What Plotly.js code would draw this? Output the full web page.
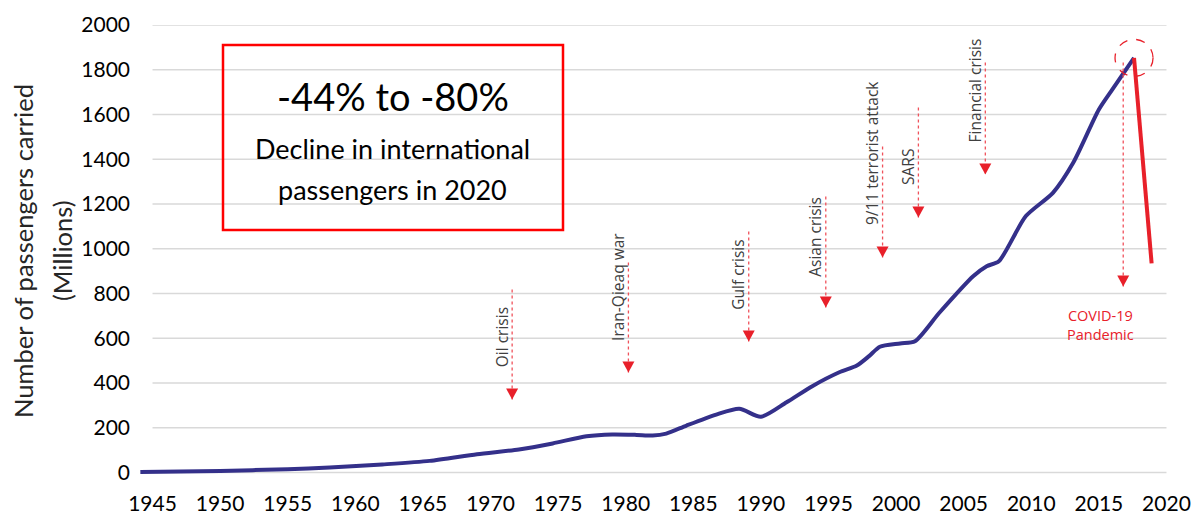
<!DOCTYPE html>
<html>
<head>
<meta charset="utf-8">
<script src="https://cdn.plot.ly/plotly-3.0.1.min.js"></script>
<style>html,body{margin:0;padding:0;background:#fff;}#chart{width:1195px;height:515px;}</style>
</head>
<body>
<div id="chart"></div>
<script>
// ---- data ----
var years = [1944.1, 1950, 1955, 1958.1, 1962, 1965.5, 1969, 1972.1, 1974.6, 1977.1, 1979.0, 1980.8, 1982.0, 1983.0, 1984.5, 1986.7, 1988.4, 1990.0, 1991.9, 1993.8, 1995.8, 1997.1, 1998.0, 1998.8, 2000.3, 2001.4, 2003.2, 2005.7, 2006.7, 2007.6, 2009.6, 2011.6, 2013.1, 2015.0, 2016.0, 2017.6];
var passengers = [2, 7, 15, 22, 36, 52, 82, 103, 130, 162, 170, 168, 165, 174, 210, 259, 285, 249, 314, 386, 448, 478, 520, 562, 577, 587, 714, 877, 922, 944, 1146, 1250, 1384, 1622, 1712, 1853];
var covidYears = [2017.6, 2018.9];
var covidPassengers = [1853, 935];

var xTickVals = [1945, 1950, 1955, 1960, 1965, 1970, 1975, 1980, 1985, 1990, 1995, 2000, 2005, 2010, 2015, 2020];
var yTickVals = [0, 200, 400, 600, 800, 1000, 1200, 1400, 1600, 1800, 2000];

var eventNames = ["Oil crisis", "Iran-Qieaq war", "Gulf crisis", "Asian crisis", "9/11 terrorist attack", "SARS", "Financial crisis"];
var eventYears = [1971.6, 1980.2, 1989.1, 1994.8, 1999.0, 2001.65, 2006.6];
var eventLineTop = [818, 939, 1077, 1233, 1457, 1631, 1832];
var eventArrowTip = [326, 447, 585, 737, 961, 1140, 1332];
var eventLabelY = [603, 829, 885, 1055, 1428, 1365, 1707];

var covidEventYear = 2016.8, covidLineTop = 1832, covidArrowTip = 831;

// ---- layout geometry ----
var W = 1195, H = 515;
var M = {l: 139, r: 15, t: 25, b: 35};
var PW = W - M.l - M.r, PH = H - M.t - M.b;
function px(x) { return (x - M.l) / PW; }
function py(y) { return (H - M.b - y) / PH; }

var navy = '#34308A', red = '#E8202A', dotRed = '#F0525C';
var FONT = 'Lato, "Open Sans", sans-serif';
var EVFONT = '"Open Sans", Lato, sans-serif';

var traces = [
  {x: years, y: passengers, type: 'scatter', mode: 'lines',
   line: {color: navy, width: 4, shape: 'spline', smoothing: 0.7}, hoverinfo: 'skip'},
  {x: covidYears, y: covidPassengers, type: 'scatter', mode: 'lines',
   line: {color: red, width: 4}, hoverinfo: 'skip'}
];

var shapes = [];
// gridlines from 1945 to 2020
yTickVals.forEach(function (v) {
  shapes.push({type: 'line', xref: 'x', yref: 'y', x0: xTickVals[0], x1: xTickVals[xTickVals.length - 1],
    y0: v, y1: v, line: {color: '#D9D9D9', width: 1.5}, layer: 'below'});
});
function addArrow(x, top, tip) {
  shapes.push({type: 'line', xref: 'x', yref: 'y', x0: x, x1: x, y0: top, y1: tip,
    line: {color: dotRed, width: 1.3, dash: 'dot'}});
  shapes.push({type: 'path', xref: 'x', yref: 'y', xsizemode: 'pixel', ysizemode: 'pixel',
    xanchor: x, yanchor: tip, path: 'M-6,11 L6,11 L0,0 Z',
    fillcolor: red, line: {color: red, width: 0}});
}
for (var i = 0; i < eventNames.length; i++) addArrow(eventYears[i], eventLineTop[i], eventArrowTip[i]);
addArrow(covidEventYear, covidLineTop, covidArrowTip);
// dashed circle on the peak
shapes.push({type: 'circle', xref: 'x', yref: 'y', xsizemode: 'pixel', ysizemode: 'pixel',
  xanchor: covidYears[0], yanchor: covidPassengers[0], x0: -19, x1: 19, y0: -18.5, y1: 18.5,
  line: {color: red, width: 1.3, dash: 'dash'}});
// red box
shapes.push({type: 'rect', xref: 'paper', yref: 'paper', x0: px(223), x1: px(563), y0: py(230), y1: py(45),
  line: {color: '#FF0000', width: 2.5}, fillcolor: 'rgba(0,0,0,0)'});

var annotations = [];
for (var j = 0; j < eventNames.length; j++) {
  annotations.push({x: eventYears[j], y: eventLabelY[j], xref: 'x', yref: 'y', xshift: -10.5,
    xanchor: 'center', yanchor: 'middle',
    text: eventNames[j], showarrow: false, textangle: -90,
    font: {family: EVFONT, size: 15.5, color: '#404040'}});
}
annotations.push({x: covidEventYear, y: 659, xref: 'x', yref: 'y', xshift: -23,
  xanchor: 'center', yanchor: 'middle',
  text: 'COVID-19<br>Pandemic', showarrow: false, align: 'center',
  font: {family: EVFONT, size: 14.5, color: red}});
function boxText(x, y, t, size, angle, color) {
  annotations.push({x: px(x), y: py(y), xref: 'paper', yref: 'paper', xanchor: 'center', yanchor: 'middle',
    text: t, showarrow: false, textangle: angle || 0,
    font: {family: FONT, size: size, color: color || '#000'}});
}
// box texts
boxText(392.5, 96, '-44% to -80%', 38);
boxText(392.5, 148, 'Decline in international', 27);
boxText(392.5, 189, 'passengers in 2020', 27);
// y title, two lines
boxText(23, 251, 'Number of passengers carried', 25.5, -90, '#262626');
boxText(62, 251, '(Millions)', 25.5, -90, '#262626');

var layout = {
  width: W, height: H,
  margin: M,
  paper_bgcolor: '#fff', plot_bgcolor: '#fff',
  showlegend: false,
  font: {family: FONT},
  xaxis: {range: [1944, 2021], tickmode: 'array', tickvals: xTickVals, ticktext: xTickVals.map(String),
    showgrid: false, zeroline: false, showline: false, ticks: '', ticklabelstandoff: 9,
    tickfont: {family: FONT, size: 21, color: '#000'}},
  yaxis: {range: [-33.5, 2000], tickmode: 'array', tickvals: yTickVals, ticktext: yTickVals.map(String),
    showgrid: false, zeroline: false, showline: false, ticks: '', ticklabelstandoff: 8,
    tickfont: {family: FONT, size: 21, color: '#000'}},
  shapes: shapes,
  annotations: annotations
};

Plotly.newPlot('chart', traces, layout, {staticPlot: true, displayModeBar: false});
</script>
</body>
</html>
